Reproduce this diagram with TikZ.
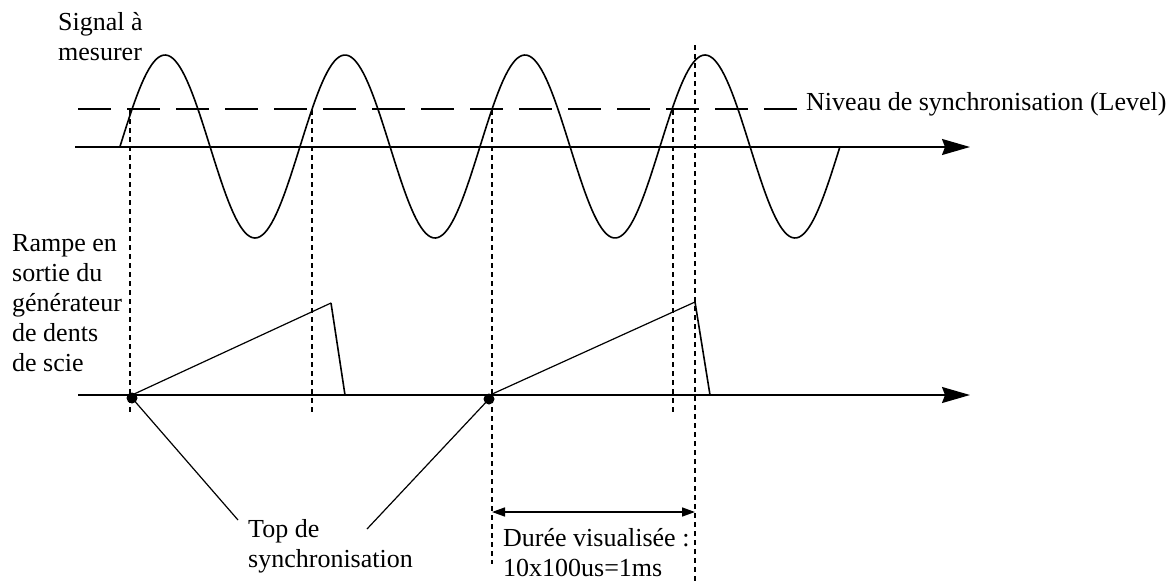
\documentclass[tikz,border=0pt]{standalone}
\usepackage{fontspec}
\setmainfont{Liberation Serif}
\usetikzlibrary{arrows.meta}
\begin{document}
\begin{tikzpicture}[x=1pt,y=-1pt,
  txt/.style={inner sep=0pt,align=left,anchor=north west,font=\fontsize{26}{30}\selectfont},
  curve/.style={line width=1.6pt},
  axis/.style={line width=1.6pt,-{Stealth[length=28pt,width=16pt,inset=3pt]}},
  vdash/.style={line width=1.4pt,dash pattern=on 5pt off 4pt},
  leveldash/.style={line width=1.4pt,dash pattern=on 33pt off 16pt},
  thin/.style={line width=1.2pt},
  dur/.style={line width=1.6pt,{Triangle[length=13pt,width=9pt]}-{Triangle[length=13pt,width=9pt]}}]
\useasboundingbox (0,0) rectangle (1174,581);
% axes
\coordinate (a1s) at (75,147);
\coordinate (a1e) at (970,147);
\coordinate (a2s) at (78,395);
\coordinate (a2e) at (970,395);
\draw[axis] (a1s) -- (a1e);
\draw[axis] (a2s) -- (a2e);
% sine
\draw[curve] plot[domain=120:840,samples=300] (\x,{146.5-91.5*sin(2*(\x-120))});
% level
\coordinate (lvs) at (78,109);
\coordinate (lve) at (797,109);
\draw[leveldash] (lvs) -- (lve);
\node[txt] (level) at (806,92) {Niveau de synchronisation (Level)};
% vertical dashed
\coordinate (v1t) at (130,110); \coordinate (v1b) at (130,412);
\coordinate (v2t) at (312,110); \coordinate (v2b) at (312,412);
\coordinate (v3t) at (492,110); \coordinate (v3b) at (492,564);
\coordinate (v4t) at (673,110); \coordinate (v4b) at (673,412);
\coordinate (v5t) at (695,45);  \coordinate (v5b) at (695,581);
\draw[vdash] (v1t) -- (v1b);
\draw[vdash] (v2t) -- (v2b);
\draw[vdash] (v3t) -- (v3b);
\draw[vdash] (v4t) -- (v4b);
\draw[vdash] (v5t) -- (v5b);
% ramps
\coordinate (r1s) at (132,395); \coordinate (r1p) at (331,303); \coordinate (r1e) at (345,395);
\coordinate (r2s) at (490,395); \coordinate (r2p) at (695,302); \coordinate (r2e) at (710,395);
\draw[thin] (r1s) -- (r1p);
\draw[curve] (r1p) -- (r1e);
\draw[thin] (r2s) -- (r2p);
\draw[curve] (r2p) -- (r2e);
% dots
\fill (132,398) circle[radius=5.5pt] coordinate (d1);
\fill (489,399) circle[radius=5.5pt] coordinate (d2);
% labels
\node[txt] (signal) at (58,12) {Signal à\\mesurer};
\node[txt] (rampe) at (12,234) {Rampe en\\sortie du\\générateur\\de dents\\de scie};
\node[txt] (top) at (248,519) {Top de\\synchronisation};
\coordinate (l1) at (238,520);
\coordinate (l2) at (367,529);
\draw[thin] (d1) -- (l1);
\draw[thin] (l2) -- (d2);
% duration
\coordinate (ds) at (492,512);
\coordinate (de) at (695,512);
\draw[dur] (ds) -- (de);
\node[txt] (duree) at (503,528) {Durée visualisée :\\10x100us=1ms};
\end{tikzpicture}
\end{document}
